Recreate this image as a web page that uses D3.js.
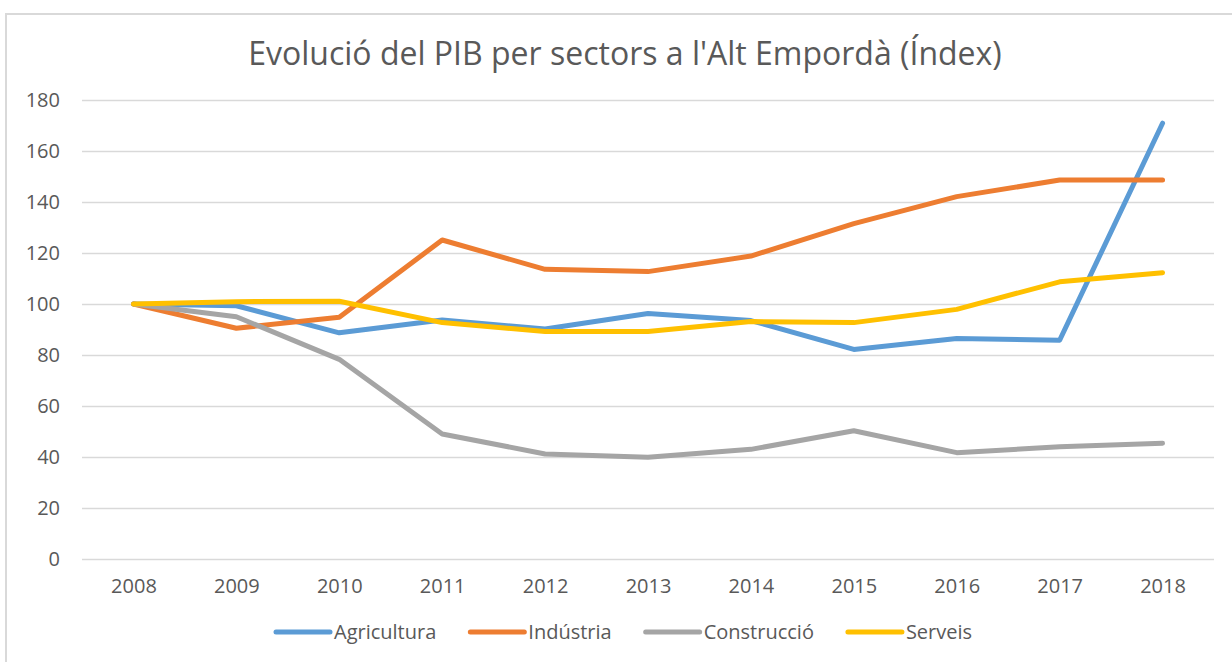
<!DOCTYPE html>
<html lang="ca">
<head>
<meta charset="UTF-8">
<title>Evolució del PIB per sectors a l'Alt Empordà</title>
<script src="https://cdn.jsdelivr.net/npm/d3@7/dist/d3.min.js"></script>
<style>
  body { margin: 0; background: #fff; }
  svg { display: block; font-family: "Open Sans", sans-serif; }
</style>
</head>
<body>
<svg id="chart" width="1232" height="662"></svg>
<script>
// chart data
const years = ["2008", "2009", "2010", "2011", "2012", "2013", "2014", "2015", "2016", "2017", "2018"];
const agricultura = [100, 99.3, 88.7, 93.7, 90.2, 96.3, 93.5, 82.2, 86.5, 85.8, 170.9];
const industria = [100, 90.5, 94.8, 125.1, 113.6, 112.7, 118.8, 131.5, 142.1, 148.6, 148.6];
const construccio = [100, 95, 78.3, 49, 41.2, 39.9, 43, 50.3, 41.7, 44, 45.4];
const serveis = [100, 100.9, 101.1, 92.7, 89.2, 89.2, 93.1, 92.7, 97.9, 108.7, 112.3];
const yTicks = [0, 20, 40, 60, 80, 100, 120, 140, 160, 180];

const series = [
  { name: "Agricultura", values: agricultura, color: "#5b9bd5" },
  { name: "Indústria", values: industria, color: "#ed7d31" },
  { name: "Construcció", values: construccio, color: "#a5a5a5" },
  { name: "Serveis", values: serveis, color: "#ffc000" }
];

const svg = d3.select("#chart");

// outer frame (only top and left edges are visible in the picture)
svg.append("path")
  .attr("d", "M6,662 V14 H1232")
  .attr("fill", "none")
  .attr("stroke", "#d9d9d9")
  .attr("stroke-width", 2);

svg.append("text")
  .attr("x", 625)
  .attr("y", 65)
  .attr("text-anchor", "middle")
  .attr("font-size", 32)
  .attr("fill", "#595959")
  .text("Evolució del PIB per sectors a l'Alt Empordà (Índex)");

const x = d3.scalePoint().domain(years).range([82, 1214]).padding(0.5);
const y = d3.scaleLinear().domain([0, 180]).range([559, 100]);

// gridlines + y labels
const yAxis = svg.append("g")
  .attr("transform", "translate(82,0)")
  .call(d3.axisLeft(y).tickValues(yTicks).tickSize(-1132).tickPadding(22));
yAxis.select(".domain").remove();
yAxis.selectAll(".tick line").attr("stroke", "#d9d9d9").attr("stroke-width", 1.5);
yAxis.selectAll(".tick text")
  .attr("fill", "#595959")
  .attr("font-size", 20)
  .attr("font-family", "Open Sans, sans-serif");

// x labels
const xAxis = svg.append("g")
  .attr("transform", "translate(0,559)")
  .call(d3.axisBottom(x).tickSize(0).tickPadding(20));
xAxis.select(".domain").remove();
xAxis.selectAll(".tick text")
  .attr("fill", "#595959")
  .attr("font-size", 20)
  .attr("font-family", "Open Sans, sans-serif");

const line = d3.line()
  .x((d, i) => x(years[i]))
  .y(d => y(d));

svg.append("g")
  .selectAll("path")
  .data(series)
  .join("path")
  .attr("d", d => line(d.values))
  .attr("fill", "none")
  .attr("stroke", d => d.color)
  .attr("stroke-width", 5)
  .attr("stroke-linejoin", "round")
  .attr("stroke-linecap", "round");

// legend
const legend = svg.append("g");
let lx = 276;
const ly = 632;
series.forEach(s => {
  legend.append("line")
    .attr("x1", lx).attr("x2", lx + 54)
    .attr("y1", ly).attr("y2", ly)
    .attr("stroke", s.color)
    .attr("stroke-width", 5)
    .attr("stroke-linecap", "round");
  const t = legend.append("text")
    .attr("x", lx + 58)
    .attr("y", ly)
    .attr("dy", "0.35em")
    .attr("font-size", 20)
    .attr("fill", "#595959")
    .text(s.name);
  lx += 58 + t.node().getComputedTextLength() + 34;
});
</script>
</body>
</html>
